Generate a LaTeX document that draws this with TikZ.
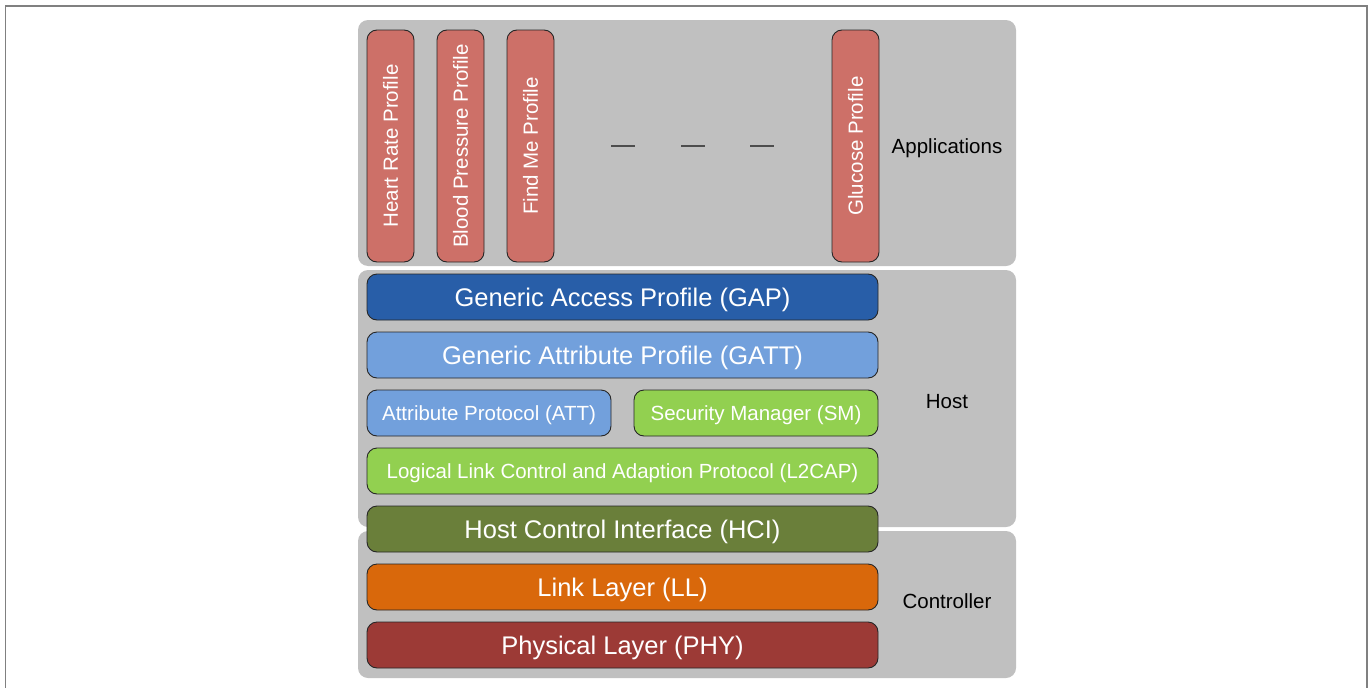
\documentclass[tikz,border=0pt]{standalone}
\usepackage{fontspec}
\setmainfont{Liberation Sans}
\definecolor{panelgray}{HTML}{C0C0C0}
\definecolor{framegray}{HTML}{808080}
\definecolor{profred}{HTML}{CD7068}
\definecolor{gapblue}{HTML}{285EA8}
\definecolor{lightblue}{HTML}{72A0DC}
\definecolor{lgreen}{HTML}{92D050}
\definecolor{hcigreen}{HTML}{6A7F3A}
\definecolor{llorange}{HTML}{D9680B}
\definecolor{phyred}{HTML}{9C3A36}
\definecolor{dashgray}{HTML}{4D4D4D}
\tikzset{
  panel/.style={fill=panelgray, draw=none, rounded corners=10pt},
  bigtext/.style={font=\fontsize{25.5}{30}\selectfont, text height=18.4pt, text depth=0pt},
  smalltext/.style={font=\fontsize{20.5}{24}\selectfont, text height=14.8pt, text depth=0pt},
  layerbox/.style={draw=black!85, line width=0.9pt, rounded corners=10pt, inner sep=0pt,
    minimum width=511pt, minimum height=46pt, text=white, bigtext},
  halfbox/.style={layerbox, minimum width=244pt, smalltext},
  profbar/.style={draw=black!85, line width=0.9pt, rounded corners=10pt, inner sep=0pt, rotate=90,
    minimum width=232pt, minimum height=47pt, fill=profred, text=white, smalltext},
  sidelabel/.style={text=black, inner sep=0pt, smalltext},
  dashline/.style={draw=dashgray, line width=2pt}
}
\begin{document}
\begin{tikzpicture}[x=1pt,y=-1pt]
\useasboundingbox (0,0) rectangle (1371,688);
% outer frame (open at bottom)
\draw[framegray, line width=1.6pt] (5.5,700) -- (5.5,6) -- (1367,6) -- (1367,700);
% panels
\fill[panel] (358,20) rectangle (1016,266);
\fill[panel] (358,270) rectangle (1016,527);
\fill[panel] (358,531) rectangle (1016,678);
% profile bars
\node[profbar] (hr) at (390.5,146) {Heart Rate Profile};
\node[profbar] (bp) at (460.5,146) {Blood Pressure Profile};
\node[profbar] (fm) at (530.5,146) {Find Me Profile};
\node[profbar] (gl) at (855.5,146) {Glucose Profile};
% dashes
\coordinate (d1a) at (611,146); \coordinate (d1b) at (635,146);
\coordinate (d2a) at (681,146); \coordinate (d2b) at (705,146);
\coordinate (d3a) at (750,146); \coordinate (d3b) at (774,146);
\draw[dashline] (d1a) -- (d1b);
\draw[dashline] (d2a) -- (d2b);
\draw[dashline] (d3a) -- (d3b);
% layers
\node[layerbox, fill=gapblue] (gap) at (622.5,297) {Generic Access Profile (GAP)};
\node[layerbox, fill=lightblue] (gatt) at (622.5,355) {Generic Attribute Profile (GATT)};
\node[halfbox, fill=lightblue] (att) at (489,413) {Attribute Protocol (ATT)};
\node[halfbox, fill=lgreen] (sm) at (756,413) {Security Manager (SM)};
\node[layerbox, fill=lgreen, smalltext] (l2cap) at (622.5,471) {Logical Link Control and Adaption Protocol (L2CAP)};
\node[layerbox, fill=hcigreen] (hci) at (622.5,529) {Host Control Interface (HCI)};
\node[layerbox, fill=llorange] (ll) at (622.5,587) {Link Layer (LL)};
\node[layerbox, fill=phyred] (phy) at (622.5,645) {Physical Layer (PHY)};
% side labels
\node[sidelabel] (apps) at (947,146) {Applications};
\node[sidelabel] (host) at (947,401) {Host};
\node[sidelabel] (ctrl) at (947,601) {Controller};
\end{tikzpicture}
\end{document}
